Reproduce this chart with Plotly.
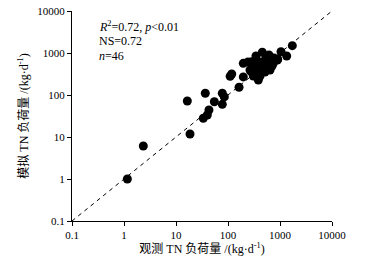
import plotly.graph_objects as go

observed = [1.16, 2.35, 16.5, 18.6, 33.5, 40, 43, 36.6, 54.6, 77.7, 85, 77.7,
            118, 110, 163, 197, 197, 285, 277, 307, 356, 383, 413, 457, 477,
            515, 614, 642, 743, 890, 903, 1045, 1344, 1725,
            242, 330, 378, 450, 515, 588, 702, 538, 413, 265, 767, 345]
simulated = [1.0, 6.1, 72, 11.8, 27.9, 33.4, 44, 110, 69, 110, 90, 60,
             316, 280, 153, 270, 568, 621, 359, 283, 681, 228, 432, 1040, 621,
             472, 896, 394, 568, 681, 709, 1074, 848, 1493,
             611, 490, 353, 547, 353, 611, 490, 760, 283, 394, 760, 848]
line_vals = [0.1, 10000]
tick_vals = [0.1, 1, 10, 100, 1000, 10000]
tick_text = ["0.1", "1", "10", "100", "1000", "10000"]

serif = "Liberation Serif, Times New Roman, Noto Sans CJK SC, serif"

fig = go.Figure()
fig.add_trace(go.Scatter(x=line_vals, y=line_vals, mode="lines",
                         line=dict(color="black", width=1, dash="4px,4px"),
                         showlegend=False, hoverinfo="skip"))
fig.add_trace(go.Scatter(x=observed, y=simulated, mode="markers",
                         marker=dict(color="black", size=9),
                         showlegend=False))

axis_common = dict(type="log", range=[-1, 4], tickvals=tick_vals, ticktext=tick_text,
                   ticks="outside", ticklen=4, tickwidth=1, tickcolor="black",
                   showline=True, linecolor="black", linewidth=1,
                   showgrid=False, zeroline=False, automargin=False,
                   ticklabeloverflow="allow",
                   tickfont=dict(family=serif, size=11, color="black"))

fig.update_xaxes(**axis_common,
                 title=dict(text="观测 TN 负荷量 /(kg·d<sup>-1</sup>)",
                            font=dict(family=serif, size=12, color="black"),
                            standoff=3))
fig.update_yaxes(**axis_common,
                 title=dict(text="模拟 TN 负荷量 /(kg·d<sup>-1</sup>)",
                            font=dict(family=serif, size=12, color="black"),
                            standoff=6))

ann_font = dict(family=serif, size=12, color="black")
for i, txt in enumerate(["<i>R</i><sup>2</sup>=0.72, <i>p</i><0.01", "NS=0.72", "<i>n</i>=46"]):
    fig.add_annotation(xref="paper", yref="paper", x=0.095, y=0.972 - i * 0.071,
                       xanchor="left", yanchor="top", text=txt, showarrow=False,
                       font=ann_font, align="left")

fig.update_layout(width=379, height=260,
                  margin=dict(l=72, r=47, t=11, b=39),
                  plot_bgcolor="white", paper_bgcolor="white")

fig.write_html("out.html", config={"displayModeBar": False},
               post_script="document.body.style.margin='0';document.body.style.padding='0';")
